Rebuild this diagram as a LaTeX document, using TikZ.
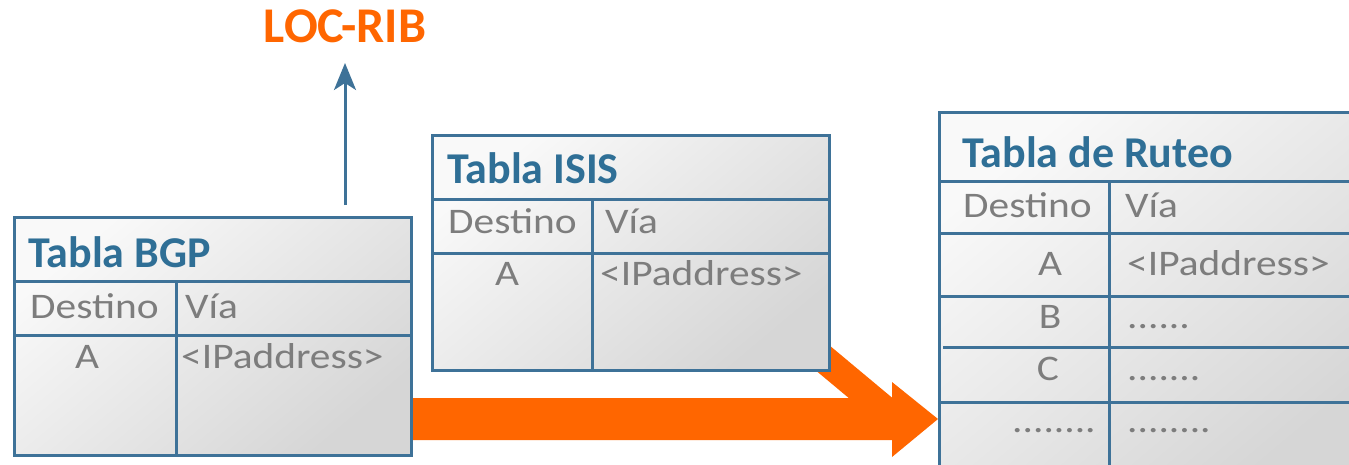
\documentclass[tikz,border=0pt]{standalone}
\usepackage{fontspec}
\setmainfont{Carlito}
\newfontfamily\bodyf[FakeStretch=1.15]{Carlito}
\usetikzlibrary{arrows.meta}
\definecolor{tline}{RGB}{62,114,152}
\definecolor{ttitle}{RGB}{47,111,150}
\definecolor{tgray}{RGB}{125,125,125}
\definecolor{orng}{RGB}{255,102,0}
\definecolor{fillA}{RGB}{249,249,249}
\definecolor{fillB}{RGB}{214,214,214}
\begin{document}
\begin{tikzpicture}[x=1pt,y=-1pt,
  tbl/.style={draw=tline,line width=3pt,top color=fillA,bottom color=fillB,shading angle=40,anchor=north west,inner sep=0pt,outer sep=0pt},
  rule/.style={draw=tline,line width=3pt},
  ttl/.style={font=\fontsize{44}{52}\selectfont\bfseries,text=ttitle,inner sep=0pt,anchor=base west},
  cell/.style={font=\bodyf\fontsize{36}{44}\selectfont,text=tgray,inner sep=0pt,anchor=base west},
  cellc/.style={cell,anchor=base},
  big/.style={draw=orng,line width=28pt}]
\useasboundingbox (0,0) rectangle (1349,464);
\clip (0,0) rectangle (1349,464);
% orange diagonal band (beneath the ISIS table)
\coordinate (dstart) at (770,314);
\coordinate (dend) at (885,410);
\draw[big] (dstart) -- (dend);
% orange main arrow
\coordinate (hs) at (400,419);
\coordinate (tip) at (938,419);
\fill[orng] (400,398) -- (892,398) -- (892,382) -- (tip) -- (892,457) -- (892,440) -- (400,440) -- cycle;
% BGP table
\node[tbl,minimum width=397pt,minimum height=238pt] (bgp) at (14,217) {};
\draw[rule] (14,281) -- (411,281);
\draw[rule] (14,335) -- (411,335);
\draw[rule] (176,281) -- (176,455);
\node[ttl] (bgpt) at (28,267) {Tabla BGP};
\node[cell] (bgpd) at (30,318) {Destino};
\node[cell] (bgpv) at (185,318) {Vía};
\node[cellc] (bgpa) at (87,368) {A};
\node[cell] (bgpi) at (181,368) {<IPaddress>};
% ISIS table
\node[tbl,minimum width=397pt,minimum height=235pt] (isis) at (432,135) {};
\draw[rule] (432,199) -- (829,199);
\draw[rule] (432,253) -- (829,253);
\draw[rule] (592,199) -- (592,370);
\node[ttl] (isist) at (447,183) {Tabla ISIS};
\node[cell] (isisd) at (448,233) {Destino};
\node[cell] (isisv) at (605,233) {Vía};
\node[cellc] (isisa) at (507,285) {A};
\node[cell] (isisi) at (600,285) {<IPaddress>};
% Ruteo table
\node[tbl,minimum width=430pt,minimum height=370pt] (rut) at (939,112) {};
\draw[rule] (939,181) -- (1369,181);
\draw[rule] (939,233) -- (1369,233);
\draw[rule] (939,296) -- (1369,296);
\draw[rule] (943,347) -- (1369,347);
\draw[rule] (939,402) -- (1369,402);
\draw[rule] (1109,181) -- (1109,482);
\node[ttl] (rutt) at (962,167) {Tabla de Ruteo};
\node[cell] (rutd) at (963,217) {Destino};
\node[cell] (rutv) at (1125,217) {Vía};
\node[cellc] (ruta) at (1050,275) {A};
\node[cell] (ruti) at (1127,275) {<IPaddress>};
\node[cellc] (rutb) at (1050,328) {B};
\node[cell] (rutbv) at (1127,328) {......};
\node[cellc] (rutc) at (1048,380) {C};
\node[cell] (rutcv) at (1127,380) {.......};
\node[cell] (rutx) at (1012,432) {........};
\node[cell] (rutxv) at (1127,432) {........};
% LOC-RIB
\node[font=\fontsize{50}{58}\selectfont\bfseries,text=orng,inner sep=0pt,anchor=base] (loc) at (345,42) {LOC-RIB};
\coordinate (up) at (345,205);
\draw[draw=tline,line width=3pt,-{Stealth[length=27pt,width=22pt,inset=7pt]}] (up) -- (loc.south |- 0,63);
\end{tikzpicture}
\end{document}
